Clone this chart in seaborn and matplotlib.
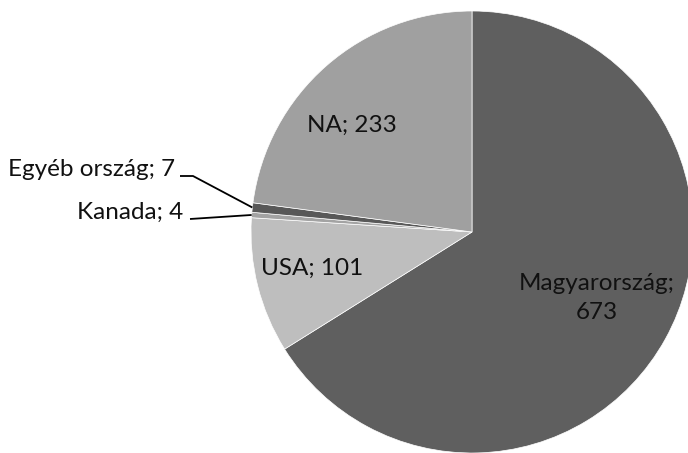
import numpy as np
import matplotlib
matplotlib.use("Agg")
import matplotlib.pyplot as plt
import seaborn as sns

# Country breakdown
countries = ["Magyarország", "USA", "Kanada", "Egyéb ország", "NA"]
counts = [673, 101, 4, 7, 233]
slice_colors = ["#5f5f5f", "#bebebe", "#a3a3a3", "#585858", "#a0a0a0"]

sns.set_theme(style="white")
plt.rcParams["font.family"] = ["Lato", "DejaVu Sans"]

fig = plt.figure(figsize=(6.88, 4.53), dpi=100)
ax = fig.add_axes([0, 0, 1, 1])
R = 221

wedges, _ = ax.pie(counts, colors=slice_colors, startangle=90, counterclock=False,
                   radius=R, center=(0, 0),
                   wedgeprops=dict(edgecolor="white", linewidth=0.5))
ax.set_xlim(-472, 688 - 472)
ax.set_ylim(-(453 - 232), 232)
ax.set_aspect("equal")
ax.axis("off")

fs = 17.5
tc = "#111111"
lbl = {c: f"{c}; {v}" for c, v in zip(countries, counts)}

ax.text(-120, 107, lbl["NA"], ha="center", va="center", fontsize=fs, color=tc)
ax.text(-160, -36, lbl["USA"], ha="center", va="center", fontsize=fs, color=tc)
ax.text(125, -66, f"{countries[0]};\n{counts[0]}", ha="center", va="center",
        fontsize=fs, color=tc, linespacing=1.45)

# Small slices get outside labels with leader lines
def mid_point(w):
    a = np.deg2rad((w.theta1 + w.theta2) / 2)
    return R * np.cos(a), R * np.sin(a)

ex, ey = mid_point(wedges[3])
ax.text(-297, 62, lbl["Egyéb ország"], ha="right", va="center", fontsize=fs, color=tc)
ax.plot([-292, -279, ex], [56, 56, ey], color="black", lw=1.3, solid_capstyle="butt")

kx, ky = mid_point(wedges[2])
ax.text(-289, 20, lbl["Kanada"], ha="right", va="center", fontsize=fs, color=tc)
ax.plot([-282, kx], [13, ky], color="black", lw=1.3, solid_capstyle="butt")

fig.savefig("out.png", dpi=100)
